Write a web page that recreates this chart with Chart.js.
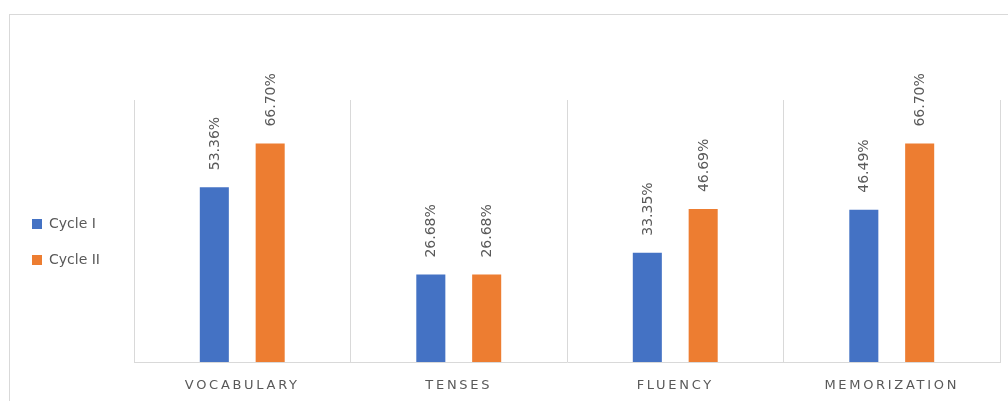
<!DOCTYPE html>
<html>
<head>
<meta charset="utf-8">
<script src="https://cdn.jsdelivr.net/npm/chart.js@4"></script>
<style>
  html, body { margin: 0; padding: 0; background: #fff; }
  #frame { position: absolute; left: 9px; top: 14px; width: 1100px; height: 500px;
           border-top: 1px solid #d9d9d9; border-left: 1px solid #d9d9d9; }
  #wrap { position: absolute; left: 0; top: 0; width: 1008px; height: 401px; }
</style>
</head>
<body>
<div id="frame"></div>
<div id="wrap"><canvas id="chart"></canvas></div>
<script>
// chart data
const categories = ["VOCABULARY", "TENSES", "FLUENCY", "MEMORIZATION"];
const cycle1 = [53.36, 26.68, 33.35, 46.49];
const cycle2 = [66.70, 26.68, 46.69, 66.70];

const textGray = "#595959";
const gridGray = "#d9d9d9";

// rotated % labels above each bar
const barLabels = {
  id: "barLabels",
  afterDatasetsDraw(chart) {
    const ctx = chart.ctx;
    ctx.save();
    ctx.font = "14px 'DejaVu Sans'";
    ctx.fillStyle = textGray;
    ctx.textAlign = "left";
    ctx.textBaseline = "middle";
    chart.data.datasets.forEach((ds, i) => {
      chart.getDatasetMeta(i).data.forEach((bar, j) => {
        ctx.save();
        ctx.translate(bar.x + 1, bar.y - 17);
        ctx.rotate(-Math.PI / 2);
        ctx.fillText(ds.data[j].toFixed(2) + "%", 0, 0);
        ctx.restore();
      });
    });
    ctx.restore();
  }
};

// spaced-out category labels
const spacedTicks = {
  id: "spacedTicks",
  beforeDraw(chart) {
    const s = chart.scales.x;
    if (s._spaced) return;
    const orig = Object.getPrototypeOf(s).drawLabels;
    s.drawLabels = function (area) {
      this.ctx.save();
      this.ctx.letterSpacing = "2.7px";
      orig.call(this, area);
      this.ctx.restore();
    };
    s._spaced = true;
  }
};

new Chart(document.getElementById("chart"), {
  type: "bar",
  data: {
    labels: categories,
    datasets: [
      { label: "Cycle I", data: cycle1, backgroundColor: "#4472c4",
        categoryPercentage: 0.516, barPercentage: 0.52 },
      { label: "Cycle II", data: cycle2, backgroundColor: "#ed7d31",
        categoryPercentage: 0.516, barPercentage: 0.52 }
    ]
  },
  options: {
    responsive: true,
    maintainAspectRatio: false,
    animation: false,
    layout: { padding: { left: 10, right: 8, top: 92, bottom: 9 } },
    plugins: {
      legend: {
        position: "left",
        labels: {
          boxWidth: 10,
          boxHeight: 10,
          padding: 22,
          color: textGray,
          font: { family: "'DejaVu Sans'", size: 14 }
        }
      },
      tooltip: { enabled: false }
    },
    scales: {
      x: {
        grid: { color: gridGray, drawTicks: false },
        border: { color: gridGray },
        ticks: {
          color: textGray,
          padding: 16,
          font: { family: "'DejaVu Sans'", size: 13 }
        },
        afterFit(s) { s.height = 30; }
      },
      // empty strip on top so the legend centres where the reference has it
      topGap: {
        type: "category",
        position: "top",
        grid: { display: false },
        border: { display: false },
        ticks: { display: false },
        afterFit(s) { s.height = 8; }
      },
      y: {
        min: 0,
        max: 80,
        grid: { display: false },
        border: { display: false },
        ticks: { display: false },
        afterFit(s) {
          const lw = s.chart.legend ? s.chart.legend.width : 90;
          s.width = Math.max(0, 124 - lw);
        }
      }
    }
  },
  plugins: [barLabels, spacedTicks]
});
</script>
</body>
</html>
